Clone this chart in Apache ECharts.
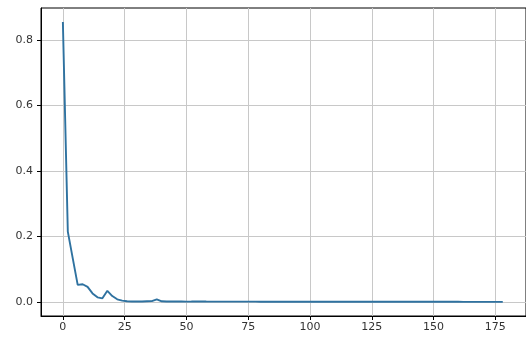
<!DOCTYPE html>
<html>
<head>
<meta charset="utf-8">
<script src="https://cdn.jsdelivr.net/npm/echarts@6/dist/echarts.min.js"></script>
<style>
  html, body { margin: 0; padding: 0; background: #fff; }
  #chart { width: 526px; height: 339px; }
</style>
</head>
<body>
<div id="chart"></div>
<script>
// Training loss per epoch
const epochs = [
  0, 2, 4, 6, 8, 10, 12, 14, 16, 18,
  20, 22, 24, 26, 28, 30, 32, 34, 36, 38,
  40, 42, 44, 46, 48, 50, 52, 54, 56, 58,
  60, 62, 64, 66, 68, 70, 72, 74, 76, 78,
  80, 82, 84, 86, 88, 90, 92, 94, 96, 98,
  100, 102, 104, 106, 108, 110, 112, 114, 116, 118,
  120, 122, 124, 126, 128, 130, 132, 134, 136, 138,
  140, 142, 144, 146, 148, 150, 152, 154, 156, 158,
  160, 162, 164, 166, 168, 170, 172, 174, 176, 178
];
const loss = [
  0.855, 0.215, 0.133, 0.052, 0.054, 0.046, 0.026, 0.014, 0.011, 0.034,
  0.018, 0.008, 0.004, 0.002, 0.0015, 0.0012, 0.0015, 0.002, 0.0025, 0.008,
  0.002, 0.0015, 0.0015, 0.0012, 0.0012, 0.001, 0.0012, 0.0015, 0.0018, 0.0012,
  0.001, 0.001, 0.0008, 0.0008, 0.001, 0.001, 0.0008, 0.0008, 0.001, 0.0008,
  0.0006, 0.0006, 0.0006, 0.0006, 0.0006, 0.0005, 0.0005, 0.0005, 0.0005, 0.0005,
  0.0005, 0.0005, 0.0005, 0.0005, 0.0005, 0.0005, 0.0006, 0.0005, 0.0005, 0.0004,
  0.0004, 0.0004, 0.0004, 0.0004, 0.0004, 0.0004, 0.0004, 0.0004, 0.0004, 0.0004,
  0.0004, 0.0004, 0.0004, 0.0004, 0.0004, 0.0004, 0.0004, 0.0004, 0.0004, 0.0004,
  0.0004, 0.0003, 0.0003, 0.0003, 0.0003, 0.0003, 0.0003, 0.0003, 0.0003, 0.0003
];
const xTicks = [0, 25, 50, 75, 100, 125, 150, 175];
const yTicks = [0, 0.2, 0.4, 0.6, 0.8];

const font = 'DejaVu Sans';
const chart = echarts.init(document.getElementById('chart'), null, { renderer: 'canvas' });

chart.setOption({
  animation: false,
  grid: {
    left: 41, right: -3, top: 8, bottom: 23,
    show: true, borderColor: '#000', borderWidth: 1,
    backgroundColor: 'transparent'
  },
  xAxis: {
    type: 'value',
    min: -8.85, max: 187.4,
    axisLine: { show: true, onZero: false, lineStyle: { color: '#000', width: 1 } },
    axisTick: { show: true, inside: false, length: 4, customValues: xTicks, lineStyle: { color: '#000' } },
    axisLabel: { customValues: xTicks, color: '#333', fontFamily: font, fontSize: 11, margin: 6 },
    splitLine: { show: true, lineStyle: { color: '#c8c8c8', width: 1 } }
  },
  yAxis: {
    type: 'value',
    min: -0.043, max: 0.898,
    axisLine: { show: true, onZero: false, lineStyle: { color: '#000', width: 1 } },
    axisTick: { show: true, inside: false, length: 4, customValues: yTicks, lineStyle: { color: '#000' } },
    axisLabel: {
      customValues: yTicks, color: '#333', fontFamily: font, fontSize: 11, margin: 8,
      formatter: v => v.toFixed(1)
    },
    splitLine: { show: true, lineStyle: { color: '#c8c8c8', width: 1 } }
  },
  series: [{
    type: 'line',
    data: epochs.map((e, i) => [e, loss[i]]),
    showSymbol: false,
    lineStyle: { color: '#2f72a0', width: 1.9 },
    clip: true
  }]
});
</script>
</body>
</html>
